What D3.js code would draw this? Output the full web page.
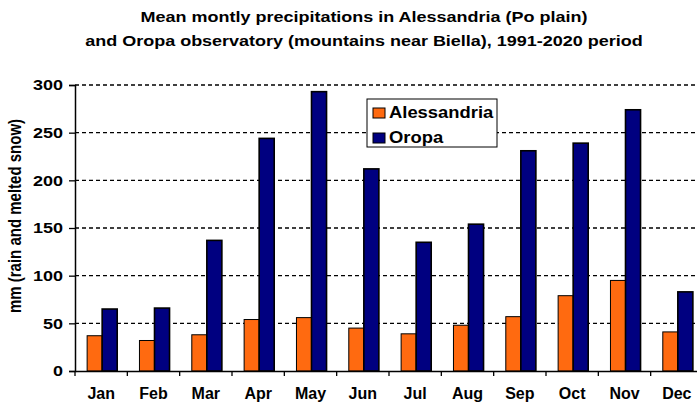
<!DOCTYPE html>
<html>
<head>
<meta charset="utf-8">
<script src="https://cdn.jsdelivr.net/npm/d3@7"></script>
<style>
  body { margin: 0; background: #fff; }
  text { font-family: "Liberation Sans", Arial, sans-serif; font-weight: bold; fill: #000; }
</style>
</head>
<body>
<div id="chart"></div>
<script>
// data
var months = ["Jan", "Feb", "Mar", "Apr", "May", "Jun", "Jul", "Aug", "Sep", "Oct", "Nov", "Dec"];
var alessandria = [37, 32, 38, 54, 56, 45, 39, 48, 57, 79, 95, 41];
var oropa = [65, 66, 137, 244, 293, 212, 135, 154, 231, 239, 274, 83];
var seriesNames = ["Alessandria", "Oropa"];
var seriesColors = ["#ff6a10", "#000080"];
var yTicks = [0, 50, 100, 150, 200, 250, 300];

var width = 697, height = 405;
var margin = { top: 85, right: -6, bottom: 34, left: 75 };
var stretch = 1.2; // the original picture is a bit wider than tall

var svg = d3.select("#chart").append("svg")
  .attr("width", width)
  .attr("height", height);

// title
["Mean montly precipitations in Alessandria (Po plain)",
 "and Oropa observatory (mountains near Biella), 1991-2020 period"].forEach(function (t, i) {
  svg.append("text")
    .attr("transform", "translate(364," + (22 + i * 24) + ") scale(" + stretch + ",1)")
    .attr("text-anchor", "middle")
    .style("font-size", "15px")
    .text(t);
});

var x = d3.scaleBand()
  .domain(months)
  .range([margin.left, width - margin.right]);

var y = d3.scaleLinear()
  .domain([0, 300])
  .range([height - margin.bottom, margin.top]);

// dashed grid lines
svg.append("g")
  .selectAll("line")
  .data(yTicks.filter(function (d) { return d > 0; }))
  .enter().append("line")
  .attr("x1", margin.left)
  .attr("x2", width)
  .attr("y1", function (d) { return y(d); })
  .attr("y2", function (d) { return y(d); })
  .attr("stroke", "#000")
  .attr("stroke-width", 1.3)
  .attr("stroke-dasharray", "4,3");

// bars
var series = [alessandria, oropa];
var sub = d3.scaleBand()
  .domain([0, 1])
  .range([0, x.bandwidth()])
  .paddingInner(0)
  .paddingOuter(0.74);

series.forEach(function (vals, si) {
  svg.append("g")
    .selectAll("rect")
    .data(vals)
    .enter().append("rect")
    .attr("x", function (d, i) { return x(months[i]) + sub(si) + 1; })
    .attr("width", sub.bandwidth())
    .attr("y", function (d) { return y(d); })
    .attr("height", function (d) { return y(0) - y(d); })
    .attr("fill", seriesColors[si])
    .attr("stroke", "#000")
    .attr("stroke-width", si === 0 ? 1 : 1.6);
});

// y axis
var yAxis = svg.append("g")
  .attr("transform", "translate(" + margin.left + ",0)")
  .call(d3.axisLeft(y).tickValues(yTicks).tickSize(6).tickPadding(5));
yAxis.select(".domain").attr("stroke-width", 1.5);
yAxis.selectAll(".tick line").attr("stroke-width", 1.3);
yAxis.selectAll("text")
  .attr("x", -12 / stretch)
  .attr("transform", "scale(" + stretch + ",1)")
  .style("font-size", "15px")
  .style("font-family", "Liberation Sans, Arial, sans-serif")
  .style("font-weight", "bold");

// x axis
var xAxis = svg.append("g")
  .attr("transform", "translate(0," + y(0) + ")")
  .call(d3.axisBottom(x).tickSize(0).tickPadding(17));
xAxis.select(".domain").attr("stroke-width", 1.5);
xAxis.selectAll("text")
  .style("font-size", "16px")
  .style("font-family", "Liberation Sans, Arial, sans-serif")
  .style("font-weight", "bold");
// tick marks at category boundaries
xAxis.append("g")
  .selectAll("line")
  .data(months)
  .enter().append("line")
  .attr("x1", function (d) { return x(d); })
  .attr("x2", function (d) { return x(d); })
  .attr("y1", 0).attr("y2", 5)
  .attr("stroke", "#000")
  .attr("stroke-width", 1.3);

// y axis title
svg.append("text")
  .attr("transform", "translate(21,216) rotate(-90) scale(1,1.25)")
  .attr("text-anchor", "middle")
  .style("font-size", "15px")
  .text("mm (rain and melted snow)");

// legend
var legend = svg.append("g").attr("transform", "translate(367,99)");
legend.append("rect")
  .attr("width", 130).attr("height", 48)
  .attr("fill", "#fff").attr("stroke", "#000").attr("stroke-width", 1);
seriesNames.forEach(function (name, i) {
  legend.append("rect")
    .attr("x", 6).attr("y", 9 + i * 25)
    .attr("width", 12).attr("height", 10)
    .attr("fill", seriesColors[i])
    .attr("stroke", "#000").attr("stroke-width", 1);
  legend.append("text")
    .attr("transform", "translate(22," + (19 + i * 25) + ") scale(1.15,1)")
    .style("font-size", "16px")
    .text(name);
});
</script>
</body>
</html>
